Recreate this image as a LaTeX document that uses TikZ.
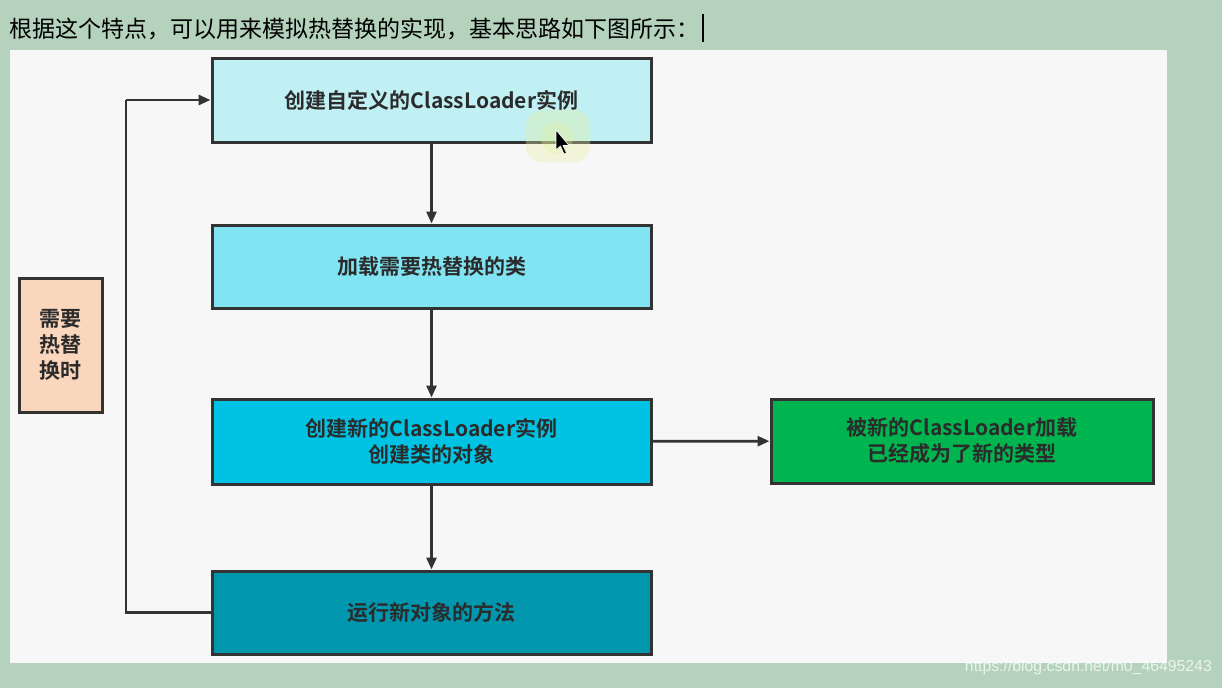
\documentclass[tikz,border=0pt]{standalone}
\usepackage{fontspec}
\setmainfont{Liberation Sans}
\newfontfamily\cjk{Noto Sans CJK SC}
\newfontfamily\cjkb{Noto Sans CJK SC Bold}
\usetikzlibrary{arrows.meta}
\definecolor{bggreen}{HTML}{B5D3BC}
\definecolor{panel}{HTML}{F7F7F7}
\definecolor{cA}{HTML}{C0EFF4}
\definecolor{cB}{HTML}{80E4F2}
\definecolor{cC}{HTML}{00C3E3}
\definecolor{cD}{HTML}{0096AD}
\definecolor{cE}{HTML}{00B44F}
\definecolor{cF}{HTML}{F9D6BC}
\definecolor{ink}{HTML}{2B2B2B}
\definecolor{edge}{HTML}{333333}
\definecolor{halo}{HTML}{E6F0A0}
\tikzset{
  flowbox/.style={draw=edge, line width=3pt, minimum width=439pt, minimum height=84pt, inner sep=0pt,
    align=center, text=ink, font=\cjkb\fontsize{21}{26}\selectfont},
  conn/.style={draw=edge, line width=2.8pt, -{Triangle[length=12pt,width=10pt]}},
}
\begin{document}
\begin{tikzpicture}[x=1pt,y=-1pt]
\useasboundingbox (0,0) rectangle (1222,688);
\fill[bggreen] (0,0) rectangle (1222,688);
\fill[panel] (10,50) rectangle (1167,663);
% heading
\node[anchor=west, inner sep=0pt, font=\cjk\fontsize{23}{26}\selectfont, text=black] (title) at (9,29) {根据这个特点，可以用来模拟热替换的实现，基本思路如下图所示：};
\draw[line width=1.8pt, black] (703,14) -- (703,42);
% boxes
\node[flowbox, fill=cA] (b1) at (431.5,100) {创建自定义的ClassLoader实例};
\node[flowbox, fill=cB, minimum height=83pt] (b2) at (431.5,266.5) {加载需要热替换的类};
\node[flowbox, fill=cC, minimum height=85pt] (b3) at (431.5,441.5) {创建新的ClassLoader实例\\创建类的对象};
\node[flowbox, fill=cD, minimum height=83pt] (b4) at (431.5,612.5) {运行新对象的方法};
\node[flowbox, fill=cE, minimum width=382pt] (b5) at (962,441) {被新的ClassLoader加载\\已经成为了新的类型};
\node[flowbox, fill=cF, minimum width=83pt, minimum height=134pt] (b6) at (60.5,345) {需要\\热替\\换时};
% connectors
\draw[conn] (b1) -- (b2);
\draw[conn] (b2) -- (b3);
\draw[conn] (b3) -- (b5);
\draw[conn] (b3) -- (b4);
\coordinate (lb) at (126,612.5);
\coordinate (lt) at (126,100);
\draw[conn, -] (b4.west) -- (lb) -- (lt);
\draw[conn] (lt) -- (b1.west);
% mouse pointer
\fill[halo, opacity=0.35, rounded corners=16pt] (526,110) rectangle (590,162);
\fill[halo, opacity=0.3] (557,138) circle (16);
\filldraw[fill=black, draw=white, line width=0.6pt] (556,130) -- (556,150) -- (560.5,146) -- (564,154) -- (566.5,153) -- (563,145.5) -- (569,145.5) -- cycle;
% watermark
\node[anchor=east, inner sep=0pt, text=white, opacity=0.75, font=\fontsize{15.8}{18}\selectfont] (wm) at (1212,667) {https://blog.csdn.net/m0\_46495243};
\end{tikzpicture}
\end{document}
